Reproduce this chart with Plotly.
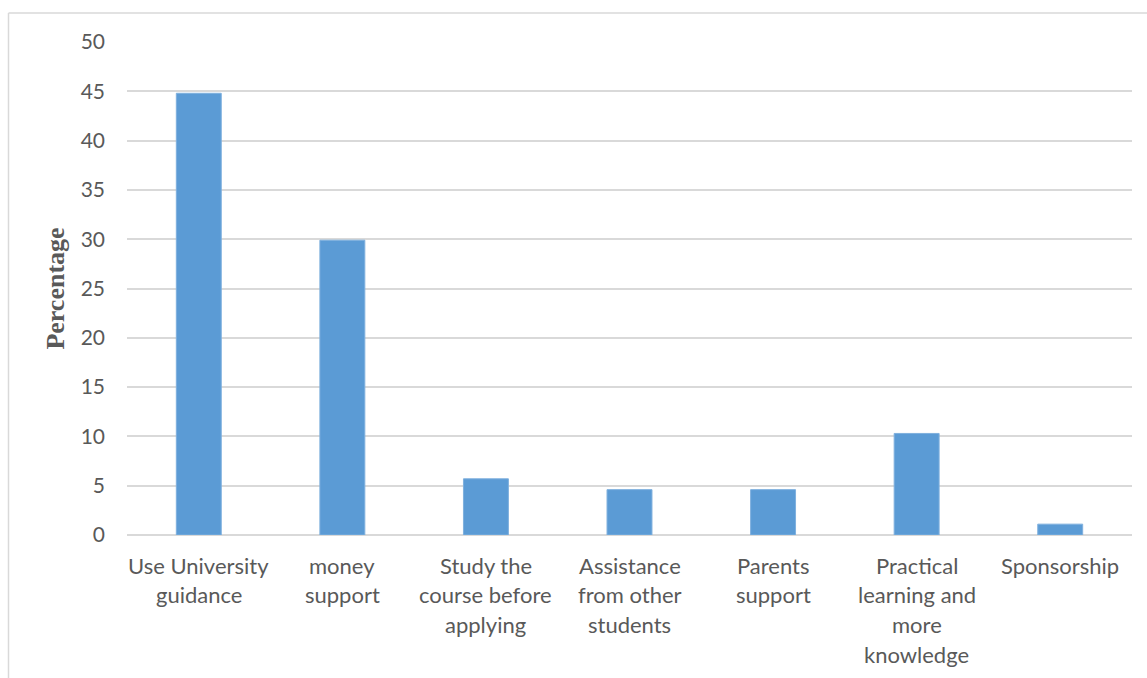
import plotly.graph_objects as go

# Survey responses: suggested ways to improve course choice
categories = [
    "Use University<br>guidance",
    "money<br>support",
    "Study the<br>course before<br>applying",
    "Assistance<br>from other<br>students",
    "Parents<br>support",
    "Practical<br>learning and<br>more<br>knowledge",
    "Sponsorship",
]
percentages = [44.8, 29.9, 5.7, 4.6, 4.6, 10.3, 1.1]
y_ticks = [0, 5, 10, 15, 20, 25, 30, 35, 40, 45, 50]

W, H = 1147, 678
ML, MR, MT, MB = 127, 15, 42, 143
PW, PH = W - ML - MR, H - MT - MB

BAR = "#5B9BD5"
TXT = "#595959"
GRID = "#D9D9D9"
FONT = "Lato"

fig = go.Figure(
    go.Bar(
        x=list(range(len(categories))),
        y=percentages,
        marker=dict(color=BAR, line=dict(color="#7FB0DE", width=1)),
        width=0.313,
        hoverinfo="skip",
    )
)

# Category labels, one annotation per text line for Excel-like line spacing
line_gap = 29.7
for i, label in enumerate(categories):
    for j, part in enumerate(label.split("<br>")):
        fig.add_annotation(
            x=i, xref="x", y=0, yref="paper",
            text=part, showarrow=False,
            xanchor="center", yanchor="middle",
            yshift=-(30 + j * line_gap),
            font=dict(family=FONT, size=22, color=TXT),
        )

# Light chart-area border (top and left edges visible)
def px_x(px):
    return (px - ML) / PW

def px_y(py):
    return (H - MB - py) / PH

fig.add_shape(type="line", xref="paper", yref="paper",
              x0=px_x(8.5), x1=px_x(W + 5), y0=px_y(13), y1=px_y(13),
              line=dict(color=GRID, width=1.5))
fig.add_shape(type="line", xref="paper", yref="paper",
              x0=px_x(8.5), x1=px_x(8.5), y0=px_y(13), y1=px_y(H + 5),
              line=dict(color=GRID, width=1.5))

fig.update_layout(
    width=W, height=H,
    margin=dict(l=ML, r=MR, t=MT, b=MB, pad=0),
    paper_bgcolor="white", plot_bgcolor="white",
    showlegend=False,
    xaxis=dict(
        range=[-0.5, len(categories) - 0.5],
        showticklabels=False, showgrid=False, zeroline=False,
        ticks="", fixedrange=True,
    ),
    yaxis=dict(
        range=[0, 50], tickvals=y_ticks,
        showgrid=True, gridcolor=GRID, gridwidth=1.8,
        zeroline=True, zerolinecolor=GRID, zerolinewidth=1.8,
        showline=False, ticks="",
        ticklabelstandoff=21,
        tickfont=dict(family=FONT, size=21, color=TXT),
        title=dict(
            text="<b>Percentage</b>",
            font=dict(family="Liberation Serif", size=26, color=TXT),
            standoff=8,
        ),
        fixedrange=True,
    ),
)

fig.write_html("out.html")
